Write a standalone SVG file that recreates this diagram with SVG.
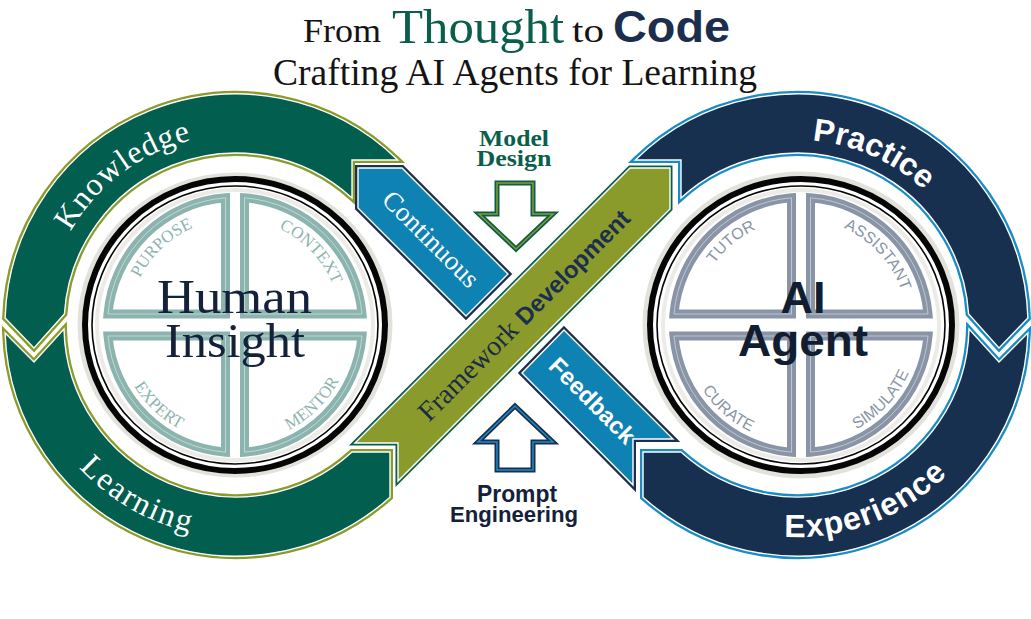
<svg xmlns="http://www.w3.org/2000/svg" width="1031" height="619" viewBox="0 0 1031 619">
<style>
.serif{font-family:"Liberation Serif","DejaVu Serif",serif}
.sans{font-family:"Liberation Sans",Arial,sans-serif}
.gOut{fill:none;stroke:#8b9b2b;stroke-width:6}
.gIn{fill:#025e4f;stroke:#ffffff;stroke-width:1.4}
.nOut{fill:none;stroke:#1b8cc2;stroke-width:6}
.nIn{fill:#183050;stroke:#ffffff;stroke-width:1.4}
.bOut{fill:none;stroke:#1c2f4e;stroke-width:6}
.bIn{fill:#0f82b4;stroke:#ffffff;stroke-width:1.4}
.oOut{fill:none;stroke:#0b5e4c;stroke-width:5}
.oIn{fill:#8a9b2b;stroke:#ffffff;stroke-width:1.4}
.halo{fill:none;stroke:#e3e1db;stroke-width:5}
.ring{fill:none;stroke:#060606;stroke-width:6}
.ring2{fill:none;stroke:#060606;stroke-width:1.6}
.inner{fill:#ffffff;stroke:#ecebe7;stroke-width:4}
.qL{fill:#ffffff;stroke:#8cb4ae;stroke-width:9}
.qR{fill:#ffffff;stroke:#8995a7;stroke-width:9}
.hl{fill:none;stroke:#ffffff;stroke-width:1;stroke-opacity:0.45}
.tqL{font-family:"Liberation Serif","DejaVu Serif",serif;font-size:17px;fill:#8cb4ae}
.tqR{font-family:"Liberation Sans",Arial,sans-serif;font-size:16px;fill:#8995a7}
.band{font-size:32px;fill:#ffffff}
</style>
<defs>
<path id="gUp" d="M5.1,318 A231,231 0 0 1 397.7,160 L352,160 L352,198 A172,172 0 0 0 64.4,314 L34,348 Z"/>
<path id="gLo" d="M5.1,333 L34,362 L64,329 A172,172 0 0 0 352,452 L390,452 L390,497.2 A231,231 0 0 1 5.1,333 Z"/>
<path id="nUp" d="M1027.9,318 A231,231 0 0 0 635.3,160 L681,160 L681,198 A172,172 0 0 1 968.6,314 L999,348 Z"/>
<path id="nLo" d="M1027.9,333 L999,362 L969,329 A172,172 0 0 1 681,452 L643,452 L643,497.2 A231,231 0 0 0 1027.9,333 Z"/>
<path id="cont" d="M358,168 L402,168 L508,274 L466,316 L358,208 Z"/>
<path id="feed" d="M564,330 L673,439 L633,439 L633,485 L522,373 Z"/>
<path id="fram" d="M630,168 L670,168 L670,209 L398,481 L398,443 L355,443 Z"/>
<path id="tpKnow" d="M47.42,348.16 A190,190 0 0 1 310.24,150.1"/>
<path id="tpLearn" d="M24,325 A212,212 0 0 0 342,508.6"/>
<path id="tpPrac" d="M688.26,175.33 A185,185 0 0 1 980.99,305.66"/>
<path id="tpExp" d="M663.58,489.76 A212,212 0 0 0 1006.39,358.16"/>
<path id="tpPur" d="M133.37,294.89 A106,106 0 0 1 210.25,221.93"/>
<path id="tpCon" d="M264.22,223.11 A106,106 0 0 1 337.85,299.36"/>
<path id="tpExpt" d="M121.86,358.51 A118,118 0 0 0 207.45,439.74"/>
<path id="tpMen" d="M264.54,439.24 A118,118 0 0 0 348.71,356.53"/>
<path id="tpTut" d="M701.39,288.75 A106,106 0 0 1 782.59,220.61"/>
<path id="tpAss" d="M832.88,223.91 A106,106 0 0 1 904.49,302.06"/>
<path id="tpCur" d="M689.43,363.42 A118,118 0 0 0 778.48,440.83"/>
<path id="tpSim" d="M835.5,437.84 A118,118 0 0 0 915.98,351.54"/>
</defs>

<g id="title">
<text class="serif" x="303" y="42" font-size="33" fill="#141414" textLength="78" lengthAdjust="spacingAndGlyphs">From</text>
<text class="serif" x="392" y="43" font-size="48" fill="#0b5e4c" textLength="172" lengthAdjust="spacingAndGlyphs">Thought</text>
<text class="serif" x="572" y="42" font-size="33" fill="#141414" textLength="32" lengthAdjust="spacingAndGlyphs">to</text>
<text class="sans" x="613" y="42" font-size="45" font-weight="bold" fill="#1b2e4e" textLength="117" lengthAdjust="spacingAndGlyphs">Code</text>
<text class="serif" x="273" y="85" font-size="37" fill="#141414" textLength="484" lengthAdjust="spacingAndGlyphs">Crafting AI Agents for Learning</text>
</g>

<g id="left-loop">
<use href="#gUp" class="gOut"/><use href="#gUp" class="gIn"/>
<use href="#gLo" class="gOut"/><use href="#gLo" class="gIn"/>
<text class="serif band" letter-spacing="1"><textPath href="#tpKnow" startOffset="50%" text-anchor="middle">Knowledge</textPath></text>
<text class="serif band" letter-spacing="2"><textPath href="#tpLearn" startOffset="50%" text-anchor="middle">Learning</textPath></text>
</g>

<g id="right-loop">
<use href="#nUp" class="nOut"/><use href="#nUp" class="nIn"/>
<use href="#nLo" class="nOut"/><use href="#nLo" class="nIn"/>
<text class="sans band" font-size="31" font-weight="bold"><textPath href="#tpPrac" startOffset="50%" text-anchor="middle">Practice</textPath></text>
<text class="sans band" font-size="31" font-weight="bold" letter-spacing="1"><textPath href="#tpExp" startOffset="50%" text-anchor="middle">Experience</textPath></text>
</g>

<g id="connectors">
<g id="continuous">
<use href="#cont" class="bOut"/><use href="#cont" class="bIn"/>
<text class="serif" font-size="27" fill="#ffffff" text-anchor="middle" transform="translate(431,239) rotate(45)" y="9">Continuous</text>
</g>
<g id="feedback">
<use href="#feed" class="bOut"/><use href="#feed" class="bIn"/>
<text class="sans" font-size="24" font-weight="bold" fill="#ffffff" text-anchor="middle" transform="translate(592.5,400.5) rotate(45)" y="8.5">Feedback</text>
</g>
<g id="framework-development">
<use href="#fram" class="oOut"/><use href="#fram" class="oIn"/>
<text text-anchor="middle" transform="translate(524,315) rotate(-45)" y="9"><tspan class="serif" font-size="28" fill="#1b2a44">Framework </tspan><tspan class="sans" font-size="24" font-weight="bold" fill="#1b2e4e">Development</tspan></text>
</g>
</g>

<g id="human-insight">
<ellipse cx="235" cy="325" rx="155" ry="150" class="halo"/>
<ellipse cx="235" cy="325" rx="150" ry="146" class="ring"/>
<ellipse cx="235" cy="325" rx="143" ry="139" class="ring2"/>
<ellipse cx="235" cy="325" rx="138" ry="135" class="inner"/>
<path class="qL" d="M225.5,314 L225.5,197.85 A127.5,127.5 0 0 0 107.98,314 Z"/>
<path class="qL" d="M244.5,314 L362.02,314 A127.5,127.5 0 0 0 244.5,197.85 Z"/>
<path class="qL" d="M225.5,336 L107.98,336 A127.5,127.5 0 0 0 225.5,452.15 Z"/>
<path class="qL" d="M244.5,336 L244.5,452.15 A127.5,127.5 0 0 0 362.02,336 Z"/>
<path class="hl" d="M225.5,314 L225.5,197.85 A127.5,127.5 0 0 0 107.98,314 Z"/>
<path class="hl" d="M244.5,314 L362.02,314 A127.5,127.5 0 0 0 244.5,197.85 Z"/>
<path class="hl" d="M225.5,336 L107.98,336 A127.5,127.5 0 0 0 225.5,452.15 Z"/>
<path class="hl" d="M244.5,336 L244.5,452.15 A127.5,127.5 0 0 0 362.02,336 Z"/>
<text class="tqL"><textPath href="#tpPur" startOffset="50%" text-anchor="middle">PURPOSE</textPath></text>
<text class="tqL"><textPath href="#tpCon" startOffset="50%" text-anchor="middle">CONTEXT</textPath></text>
<text class="tqL"><textPath href="#tpExpt" startOffset="50%" text-anchor="middle">EXPERT</textPath></text>
<text class="tqL"><textPath href="#tpMen" startOffset="50%" text-anchor="middle">MENTOR</textPath></text>
<text class="serif" x="157" y="313" font-size="48" fill="#14213a" textLength="155" lengthAdjust="spacingAndGlyphs">Human</text>
<text class="serif" x="165" y="357" font-size="48" fill="#14213a" textLength="140" lengthAdjust="spacingAndGlyphs">Insight</text>
</g>

<g id="ai-agent">
<ellipse cx="801" cy="325" rx="156" ry="151" class="halo"/>
<ellipse cx="801" cy="325" rx="151" ry="146" class="ring"/>
<ellipse cx="801" cy="325" rx="144" ry="139" class="ring2"/>
<ellipse cx="801" cy="325" rx="138" ry="135" class="inner"/>
<path class="qR" d="M791.5,314 L791.5,197.85 A127.5,127.5 0 0 0 673.98,314 Z"/>
<path class="qR" d="M810.5,314 L928.02,314 A127.5,127.5 0 0 0 810.5,197.85 Z"/>
<path class="qR" d="M791.5,336 L673.98,336 A127.5,127.5 0 0 0 791.5,452.15 Z"/>
<path class="qR" d="M810.5,336 L810.5,452.15 A127.5,127.5 0 0 0 928.02,336 Z"/>
<path class="hl" d="M791.5,314 L791.5,197.85 A127.5,127.5 0 0 0 673.98,314 Z"/>
<path class="hl" d="M810.5,314 L928.02,314 A127.5,127.5 0 0 0 810.5,197.85 Z"/>
<path class="hl" d="M791.5,336 L673.98,336 A127.5,127.5 0 0 0 791.5,452.15 Z"/>
<path class="hl" d="M810.5,336 L810.5,452.15 A127.5,127.5 0 0 0 928.02,336 Z"/>
<text class="tqR"><textPath href="#tpTut" startOffset="50%" text-anchor="middle">TUTOR</textPath></text>
<text class="tqR"><textPath href="#tpAss" startOffset="50%" text-anchor="middle">ASSISTANT</textPath></text>
<text class="tqR"><textPath href="#tpCur" startOffset="50%" text-anchor="middle">CURATE</textPath></text>
<text class="tqR"><textPath href="#tpSim" startOffset="50%" text-anchor="middle">SIMULATE</textPath></text>
<text class="sans" x="803" y="313" font-size="45" font-weight="bold" fill="#111d30" text-anchor="middle">AI</text>
<text class="sans" x="803" y="356" font-size="45" font-weight="bold" fill="#111d30" text-anchor="middle" textLength="130" lengthAdjust="spacingAndGlyphs">Agent</text>
</g>

<g id="model-design">
<text class="serif" x="514" y="146" font-size="24" font-weight="bold" fill="#0b5e4c" text-anchor="middle" textLength="70" lengthAdjust="spacingAndGlyphs">Model</text>
<text class="serif" x="514" y="166" font-size="24" font-weight="bold" fill="#0b5e4c" text-anchor="middle" textLength="75" lengthAdjust="spacingAndGlyphs">Design</text>
<polygon points="497,183 533,183 533,214 553,214 516,249 479,214 497,214" fill="#ffffff" stroke="#0b5e4c" stroke-width="5"/>
<polygon points="497,183 533,183 533,214 553,214 516,249 479,214 497,214" fill="none" stroke="#8b9b2b" stroke-width="1.5"/>
</g>

<g id="prompt-engineering">
<polygon points="515,406 553,442 533,442 533,470 497,470 497,442 478,442" fill="#ffffff" stroke="#1b2e4e" stroke-width="5"/>
<polygon points="515,406 553,442 533,442 533,470 497,470 497,442 478,442" fill="none" stroke="#1b8cc2" stroke-width="1.5"/>
<text class="sans" x="517" y="502" font-size="23" font-weight="bold" fill="#14213a" text-anchor="middle" textLength="80" lengthAdjust="spacingAndGlyphs">Prompt</text>
<text class="sans" x="514" y="522" font-size="22" font-weight="bold" fill="#14213a" text-anchor="middle" textLength="128" lengthAdjust="spacingAndGlyphs">Engineering</text>
</g>
</svg>
